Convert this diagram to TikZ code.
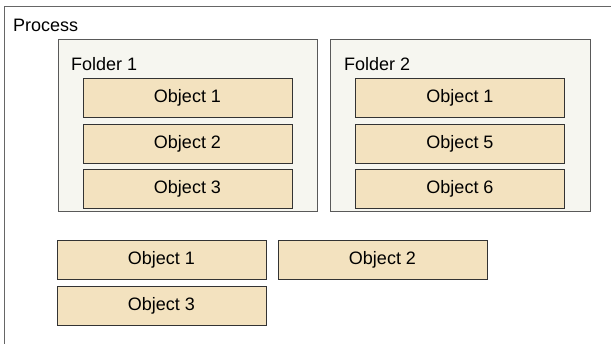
\documentclass[tikz,border=0pt]{standalone}
\usepackage{fontspec}
\setmainfont{Liberation Sans}
\usetikzlibrary{positioning}
\definecolor{objfill}{HTML}{F3E2BF}
\definecolor{folderfill}{HTML}{F6F6F0}
\tikzset{obj/.style = {draw = black!80, fill = objfill, line width = 0.9pt, minimum width = 209, minimum height = 39, inner sep = 0, font = \fontsize{18}{21}\selectfont}}
\tikzset{folder/.style = {draw = black!65, fill = folderfill, line width = 1pt, inner sep = 0}}
\tikzset{lbl/.style = {anchor = base west, inner sep = 0, font = \fontsize{18}{21}\selectfont}}

\begin{document}
\begin{tikzpicture}[x = 1pt, y = -1pt]
    \useasboundingbox (0, 0) rectangle (611, 344);
    \clip (0, 0) rectangle (611, 344);
    % outer process box
    \draw [draw = black!60, line width = 1.3pt] (4.5, 360) -- (4.5, 6.5) -- (620, 6.5);
    \node [lbl] (process) at (13, 32) {Process};
    % folders
    \node [folder, minimum width = 259, minimum height = 172] (f1) at (187.5, 126) {};
    \node [folder, minimum width = 260, minimum height = 172] (f2) at (460, 126) {};
    \node [lbl] (f1lbl) at (71, 71) {Folder 1};
    \node [lbl] (f2lbl) at (344, 71) {Folder 2};
    \foreach \y/\n in {97.5/1, 143.5/2, 188.5/3}{
      \node [obj] (a\n) at (187.5, \y) {Object \n};
    }
    \foreach \y/\n/\t in {97.5/1/1, 143.5/2/5, 188.5/3/6}{
      \node [obj] (b\n) at (460, \y) {Object \t};
    }
    % loose objects
    \node [obj] (c1) at (161.5, 260) {Object 1};
    \node [obj] (c2) at (382.5, 260) {Object 2};
    \node [obj] (c3) at (161.5, 305.5) {Object 3};
  \end{tikzpicture}
\end{document}
